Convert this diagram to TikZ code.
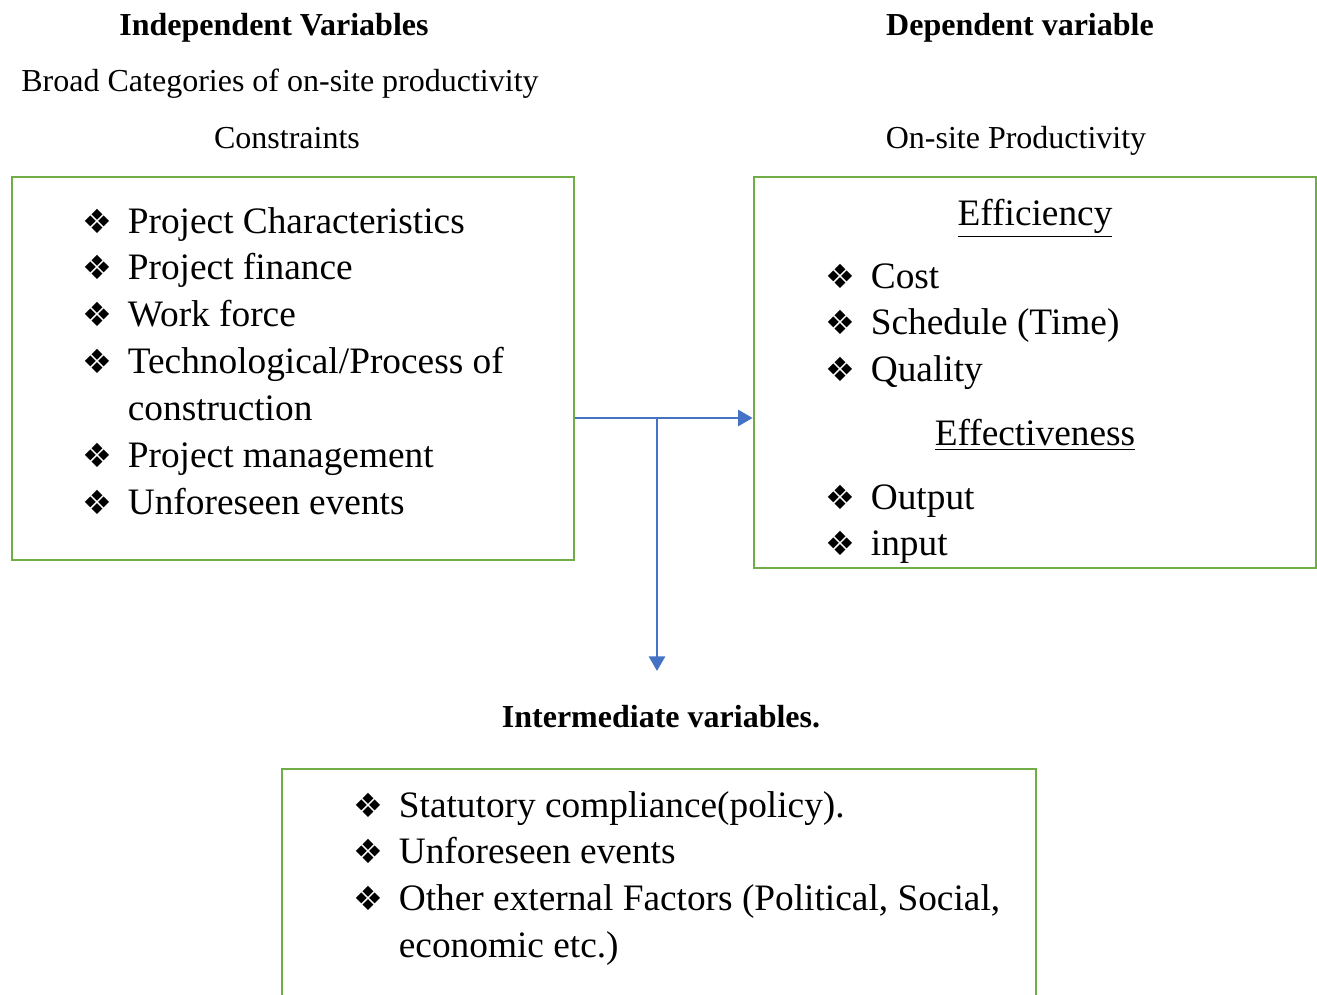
\documentclass[tikz,border=0pt]{standalone}
\usepackage{fontspec}
\setmainfont{Liberation Serif}
\newfontfamily\symfont{DejaVu Sans}
\usetikzlibrary{arrows.meta, positioning, fit}
\definecolor{boxgreen}{RGB}{112,173,71}
\definecolor{arrowblue}{RGB}{68,114,196}
\newcommand{\bul}{\makebox[17pt][l]{\symfont\fontsize{12.5}{12.5}\selectfont ❖}}
\newcommand{\indt}{\hspace{17pt}}

\begin{document}
\begin{tikzpicture}[
    x=0.375pt, y=-0.375pt,
    gbox/.style={draw=boxgreen, line width=1pt, inner sep=0pt},
    arr/.style={-{Triangle[length=5.5pt, width=6pt]}, draw=arrowblue, line width=1.1pt},
    title/.style={anchor=base, font=\fontsize{12}{14}\selectfont\bfseries, inner sep=0pt},
    sub/.style={anchor=base, font=\fontsize{12}{14}\selectfont, inner sep=0pt},
    head/.style={anchor=base, font=\fontsize{14}{17.6}\selectfont, inner sep=0pt},
    lst/.style={anchor=base west, font=\fontsize{14}{17.6}\selectfont, inner sep=0pt},
]
\clip (0,0) rectangle (1317,995);
% === Headings ===
\node[title] (indep) at (274,36) {Independent Variables};
\node[sub] (broad) at (280,92) {Broad Categories of on-site productivity};
\node[sub] (constr) at (287,149) {Constraints};
\node[title] (dep) at (1020,36) {Dependent variable};
\node[sub] (onsite) at (1016,149) {On-site Productivity};
\node[title] (inter) at (661,727) {Intermediate variables.};
% === Boxes ===
\node[gbox, fit={(12,177) (574,560)}] (cons) {};
\node[gbox, fit={(754,177) (1316,568)}] (prod) {};
\node[gbox, fit={(282,769) (1036,1020)}] (ext) {};
% === Constraints list ===
\node[lst] (conslist) at (82,233) {\begin{tabular}[t]{@{}l@{}}
\bul Project Characteristics\\
\bul Project finance\\
\bul Work force\\
\bul Technological/Process of\\
\indt construction\\
\bul Project management\\
\bul Unforeseen events
\end{tabular}};
% === Productivity lists ===
\node[head] (effic) at (1035,225) {\underline{Efficiency}};
\node[lst] (efflist) at (825,288) {\begin{tabular}[t]{@{}l@{}}
\bul Cost\\
\bul Schedule (Time)\\
\bul Quality
\end{tabular}};
\node[head] (effect) at (1035,445) {\underline{Effectiveness}};
\node[lst] (outlist) at (825,509) {\begin{tabular}[t]{@{}l@{}}
\bul Output\\
\bul input
\end{tabular}};
% === Intermediate list ===
\node[lst] (extlist) at (353,817) {\begin{tabular}[t]{@{}l@{}}
\bul Statutory compliance(policy).\\
\bul Unforeseen events\\
\bul Other external Factors (Political, Social,\\
\indt economic etc.)
\end{tabular}};
% === Connectors ===
\coordinate (split) at (657,418);
\coordinate (down) at (657,671);
\draw[arr] (cons.east |- split) -- (prod.west |- split);
\draw[arr] (split) -- (down);
\end{tikzpicture}
\end{document}
